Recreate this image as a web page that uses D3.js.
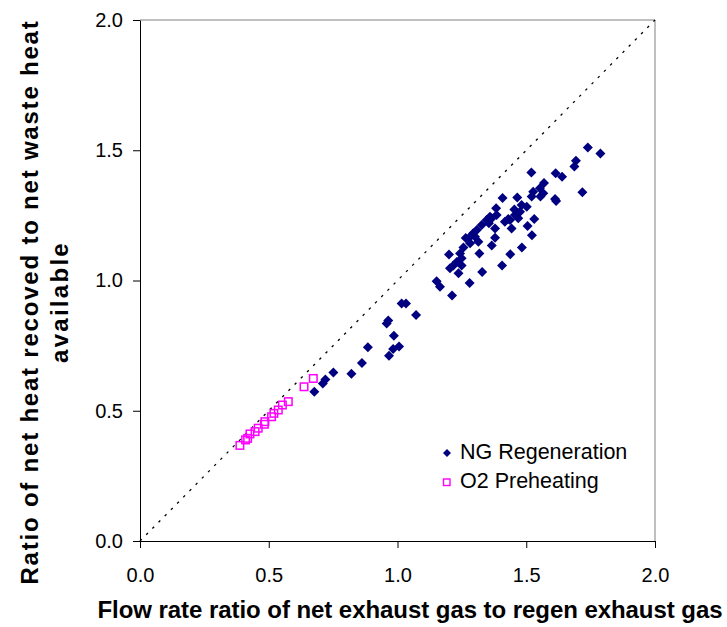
<!DOCTYPE html>
<html>
<head>
<meta charset="utf-8">
<script src="https://cdn.jsdelivr.net/npm/d3@7"></script>
<style>
  html, body { margin: 0; padding: 0; background: #fff; }
  svg { display: block; font-family: "Liberation Sans", Arial, sans-serif; }
</style>
</head>
<body>
<svg id="chart" width="727" height="627"></svg>
<script>
// NG Regeneration: flow rate ratio (x) vs heat recovery ratio (y)
const ngX = [1.739,1.788,1.693,1.687,1.520,1.614,1.639,1.569,1.553,1.718,1.527,1.566,1.555,1.521,1.408,1.465,1.612,1.616,1.502,1.482,1.476,1.456,1.383,1.454,1.437,1.417,1.359,1.346,1.327,1.385,1.366,1.430,1.469,1.531,1.355,1.379,1.443,1.505,1.308,1.294,1.301,1.282,1.265,1.379,1.522,1.282,1.314,1.366,1.483,1.256,1.243,1.249,1.200,1.318,1.438,1.230,1.217,1.204,1.249,1.406,1.237,1.329,1.152,1.165,1.280,1.212,1.016,1.033,1.072,0.964,0.958,0.986,0.885,1.006,0.983,0.967,0.862,0.821,0.751,0.720,0.710,0.677];
const ngY = [1.511,1.488,1.460,1.438,1.415,1.412,1.398,1.374,1.354,1.339,1.341,1.335,1.322,1.322,1.317,1.319,1.313,1.305,1.283,1.290,1.264,1.251,1.277,1.273,1.232,1.226,1.245,1.232,1.213,1.251,1.239,1.236,1.239,1.236,1.220,1.200,1.200,1.209,1.194,1.181,1.168,1.168,1.163,1.164,1.174,1.143,1.149,1.134,1.127,1.127,1.104,1.085,1.100,1.104,1.101,1.071,1.058,1.047,1.058,1.058,1.028,1.033,0.997,0.976,0.990,0.942,0.912,0.912,0.868,0.846,0.835,0.788,0.744,0.747,0.737,0.711,0.683,0.642,0.647,0.620,0.605,0.573];

// O2 Preheating
const o2X = [0.388,0.410,0.418,0.427,0.447,0.459,0.483,0.485,0.511,0.520,0.537,0.553,0.576,0.637,0.673];
const o2Y = [0.367,0.388,0.394,0.411,0.420,0.433,0.448,0.458,0.477,0.490,0.503,0.522,0.535,0.592,0.624];

const tickValues = [0, 0.5, 1.0, 1.5, 2.0];
const seriesNames = ["NG Regeneration", "O2 Preheating"];
const xTitle = "Flow rate ratio of net exhaust gas to regen exhaust gas";
const yTitleLines = ["Ratio of net heat recoved to net waste heat", "available"];

const svg = d3.select("#chart");
const plotLeft = 140, plotRight = 655, plotTop = 20, plotBottom = 541;

const x = d3.scaleLinear().domain([0, 2]).range([plotLeft, plotRight]);
const y = d3.scaleLinear().domain([0, 2]).range([plotBottom, plotTop]);

// stretch a text run to a given length by adjusting letter spacing
function fitLength(sel, target) {
  const node = sel.node();
  const len = node.getComputedTextLength();
  const n = node.textContent.length;
  if (n > 1) sel.attr("letter-spacing", (target - len) / n);
}

// plot frame: grey top/right, axes black
svg.append("line").attr("x1", plotLeft).attr("x2", plotRight).attr("y1", plotTop).attr("y2", plotTop)
  .attr("stroke", "#808080").attr("stroke-width", 1);
svg.append("line").attr("x1", plotRight).attr("x2", plotRight).attr("y1", plotTop).attr("y2", plotBottom)
  .attr("stroke", "#808080").attr("stroke-width", 1);

// y = x reference line
svg.append("line")
  .attr("x1", x(0)).attr("y1", y(0)).attr("x2", x(2)).attr("y2", y(2))
  .attr("stroke", "#000").attr("stroke-width", 1.3)
  .attr("stroke-dasharray", "2.5,6.3");

const fmt = d3.format(".1f");

const gx = svg.append("g").attr("transform", `translate(0,${plotBottom})`)
  .call(d3.axisBottom(x).tickValues(tickValues).tickFormat(fmt)
    .tickSize(7).tickSizeOuter(0).tickPadding(20));
const gy = svg.append("g").attr("transform", `translate(${plotLeft},0)`)
  .call(d3.axisLeft(y).tickValues(tickValues).tickFormat(fmt)
    .tickSize(7).tickSizeOuter(0).tickPadding(10));

[gx, gy].forEach(g => {
  g.select(".domain").attr("stroke", "#000").attr("stroke-width", 1);
  g.selectAll(".tick line").attr("stroke", "#000");
  g.selectAll(".tick text").attr("font-size", 20)
    .attr("font-family", "'Liberation Sans', Arial, sans-serif").attr("fill", "#000");
});

// markers
const diamond = s => `M0,${-s}L${s},0L0,${s}L${-s},0Z`;

svg.append("g").selectAll("path")
  .data(d3.zip(ngX, ngY))
  .join("path")
  .attr("d", diamond(5))
  .attr("transform", d => `translate(${x(d[0])},${y(d[1])})`)
  .attr("fill", "#000080");

svg.append("g").selectAll("rect")
  .data(d3.zip(o2X, o2Y))
  .join("rect")
  .attr("x", d => x(d[0]) - 3.75).attr("y", d => y(d[1]) - 3.75)
  .attr("width", 7.5).attr("height", 7.5)
  .attr("fill", "none").attr("stroke", "#FF00FF").attr("stroke-width", 1.5);

// legend
const lg = svg.append("g");
lg.append("path").attr("d", diamond(4))
  .attr("transform", "translate(447,453)").attr("fill", "#000080");
lg.append("text").attr("x", 460).attr("y", 459).attr("font-size", 21.5)
  .text(seriesNames[0]);
lg.append("rect").attr("x", 443.5).attr("y", 479).attr("width", 6.5).attr("height", 6.5)
  .attr("fill", "none").attr("stroke", "#FF00FF").attr("stroke-width", 1.4);
lg.append("text").attr("x", 460).attr("y", 488).attr("font-size", 21.5)
  .text(seriesNames[1]);

// axis titles
const xt = svg.append("text").attr("x", 410).attr("y", 618)
  .attr("text-anchor", "middle").attr("font-size", 24).attr("font-weight", "bold")
  .text(xTitle);
fitLength(xt, 625);

const yt = svg.append("text")
  .attr("transform", "translate(38,302) rotate(-90)")
  .attr("text-anchor", "middle").attr("font-size", 24).attr("font-weight", "bold");
yTitleLines.forEach((t, i) => {
  const ts = yt.append("tspan").attr("x", 0).attr("dy", i === 0 ? 0 : 30).text(t);
  fitLength(ts, i === 0 ? 565 : 122);
});
</script>
</body>
</html>
